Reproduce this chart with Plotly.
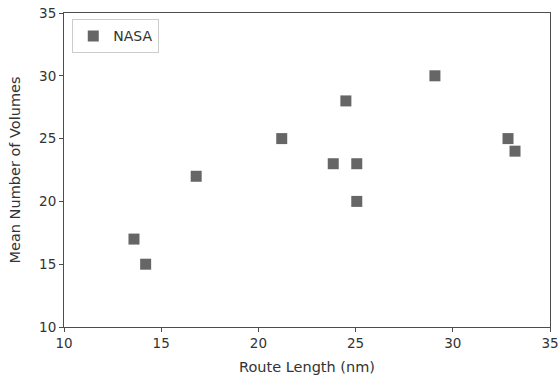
import plotly.graph_objects as go

route_length = [13.6, 14.2, 16.8, 21.2, 23.85, 24.5, 25.06, 25.06, 29.08, 32.84, 33.2]
mean_volumes = [17, 15, 22, 25, 23, 28, 23, 20, 30, 25, 24]
series_name = "NASA"
x_ticks = [10, 15, 20, 25, 30, 35]
y_ticks = [10, 15, 20, 25, 30, 35]

FONT = "DejaVu Sans"
TXT = "#333333"

fig = go.Figure()
fig.add_trace(go.Scatter(
    x=route_length, y=mean_volumes, mode="markers", name=series_name,
    marker=dict(symbol="square", size=11, color="#666666", line=dict(width=0)),
))

axis_common = dict(
    showgrid=False, zeroline=False, showline=True, linecolor="#4d4d4d", linewidth=1,
    mirror=True, ticks="outside", ticklen=4, tickcolor="#4d4d4d", automargin=False,
    tickfont=dict(family=FONT, size=13.5, color=TXT),
)
fig.update_xaxes(range=[10, 35], tickvals=x_ticks,
                 title=dict(text="Route Length (nm)", font=dict(family=FONT, size=14.5, color=TXT)),
                 **axis_common)
fig.update_yaxes(range=[10, 35], tickvals=y_ticks,
                 title=dict(text="Mean Number of Volumes", font=dict(family=FONT, size=14.5, color=TXT)),
                 **axis_common)

fig.update_layout(
    width=560, height=375,
    margin=dict(l=64, r=10, t=13, b=48, autoexpand=False),
    paper_bgcolor="white", plot_bgcolor="white",
    showlegend=True,
    legend=dict(x=0.017, y=0.98, xanchor="left", yanchor="top",
                bordercolor="#cccccc", borderwidth=1, bgcolor="white",
                font=dict(family=FONT, size=14, color=TXT)),
)

fig.write_html("out.html", config={"displayModeBar": False},
               post_script="document.body.style.margin='0';document.body.style.padding='0';")
